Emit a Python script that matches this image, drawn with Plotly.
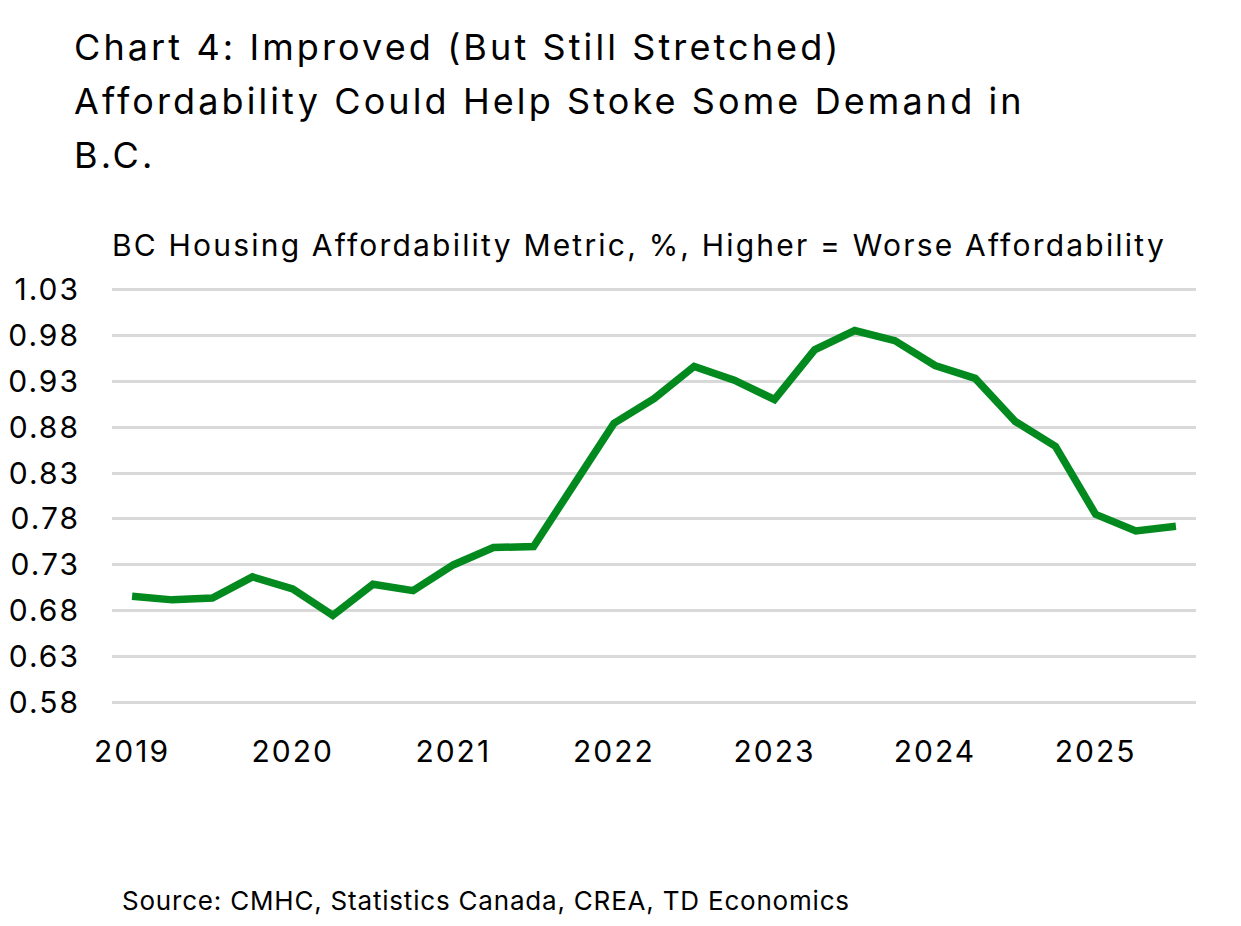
import plotly.graph_objects as go

quarters = [f"{y}Q{q}" for y in range(2019, 2026) for q in range(1, 5)][:27]
values = [0.696, 0.692, 0.694, 0.717, 0.704, 0.675, 0.709, 0.702,
          0.730, 0.749, 0.750, 0.818, 0.884, 0.911, 0.946, 0.931,
          0.910, 0.964, 0.985, 0.974, 0.947, 0.933, 0.886, 0.859,
          0.785, 0.767, 0.772]
year_ticks = ["2019Q1", "2020Q1", "2021Q1", "2022Q1", "2023Q1", "2024Q1", "2025Q1"]
year_labels = ["2019", "2020", "2021", "2022", "2023", "2024", "2025"]
y_ticks = [0.58, 0.63, 0.68, 0.73, 0.78, 0.83, 0.88, 0.93, 0.98, 1.03]
y_labels = [f"{v:.2f}" for v in y_ticks]

title_lines = ["Chart 4: Improved (But Still Stretched)",
               "Affordability Could Help Stoke Some Demand in",
               "B.C."]
subtitle = "BC Housing Affordability Metric, %, Higher = Worse Affordability"
source = "Source: CMHC, Statistics Canada, CREA, TD Economics"

FONT = "Inter"
OFF = 8  # page body margin
W, H = 1241, 926
pw, ph = 1084, 432
L, T = 112 - OFF, 280 - OFF
R, B = W - L - pw, H - T - ph

def px(x):
    return (x - OFF - L) / pw

def py(y):
    return (H - B - (y - OFF)) / ph

def spaced(text, sp):
    return f'<span style="letter-spacing:{sp}px">{text}</span>'

fig = go.Figure()
fig.add_trace(go.Scatter(x=quarters, y=values, mode="lines",
                         line=dict(color="#038A1F", width=7.5),
                         hoverinfo="skip", showlegend=False))

annotations = []
for i, line in enumerate(title_lines):
    annotations.append(dict(text=spaced(line, 3.1), x=px(72), y=py(47 + 54 * i),
                            xref="paper", yref="paper", align="left",
                            xanchor="left", yanchor="middle", showarrow=False,
                            font=dict(family=FONT, size=36, color="#000000")))
annotations.append(dict(text=spaced(subtitle, 2.2), x=px(110), y=py(245), xref="paper", yref="paper",
                        align="left", xanchor="left", yanchor="middle", showarrow=False,
                        font=dict(family=FONT, size=30, color="#000000")))
annotations.append(dict(text=spaced(source, 0.8), x=px(120), y=py(900), xref="paper", yref="paper",
                        align="left", xanchor="left", yanchor="middle", showarrow=False,
                        font=dict(family=FONT, size=26, color="#000000")))

fig.update_layout(
    width=W, height=H,
    margin=dict(l=L, r=R, t=T, b=B, pad=0, autoexpand=False),
    paper_bgcolor="white", plot_bgcolor="white",
    font=dict(family=FONT, color="#000000"),
    annotations=annotations,
    xaxis=dict(type="category", categoryorder="array", categoryarray=quarters,
               range=[-0.5, 26.5], tickmode="array", tickvals=year_ticks,
               ticktext=[spaced(t, 2) for t in year_labels], automargin=False,
               showgrid=False, showline=False, zeroline=False, ticks="",
               ticklabelstandoff=19, tickfont=dict(family=FONT, size=30, color="#000000")),
    yaxis=dict(range=[0.57, 1.04], tickmode="array", tickvals=y_ticks,
               ticktext=[spaced(t, 2) for t in y_labels], automargin=False,
               showgrid=True, gridcolor="#D9D9D9", gridwidth=3, showline=False, zeroline=False,
               ticks="", ticklabelstandoff=31, tickfont=dict(family=FONT, size=30, color="#000000")),
)

fig.write_html("out.html")
